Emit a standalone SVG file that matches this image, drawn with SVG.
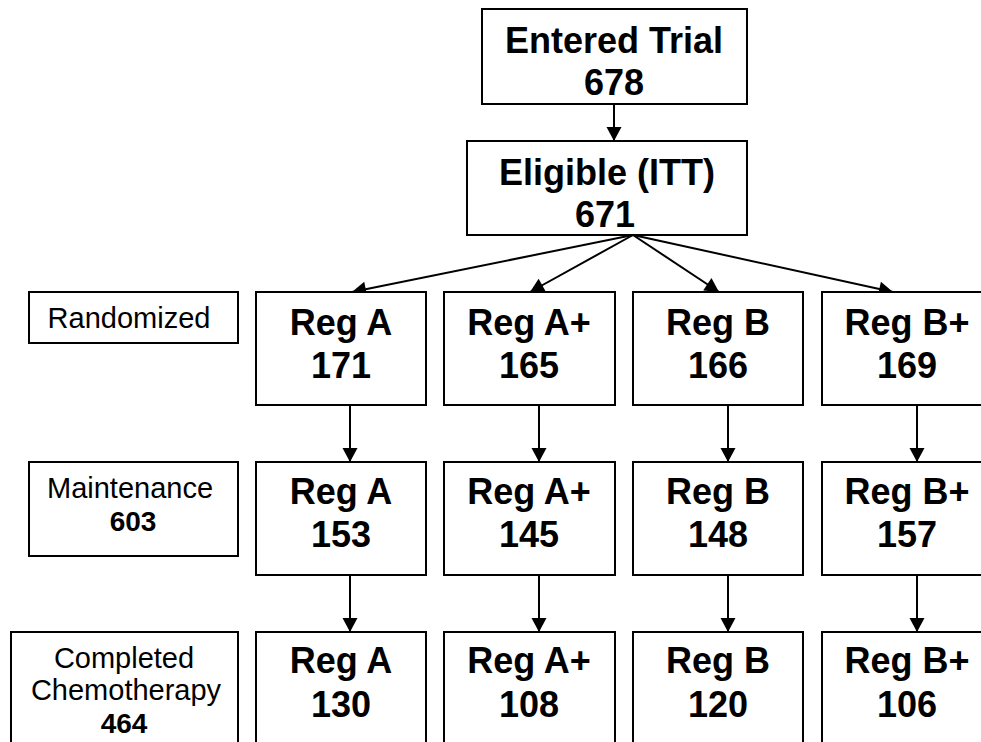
<svg xmlns="http://www.w3.org/2000/svg" width="981" height="742" viewBox="0 0 981 742">
<style>
.box{fill:#fff;stroke:#000;stroke-width:2}
.big{font-family:"Liberation Sans",Arial,sans-serif;font-weight:bold;font-size:36px;text-anchor:middle;fill:#000}
.lab{font-family:"Liberation Sans",Arial,sans-serif;font-size:29px;text-anchor:middle;fill:#000}
.labb{font-family:"Liberation Sans",Arial,sans-serif;font-size:28px;font-weight:bold;text-anchor:middle;fill:#000}
.con{stroke:#000;stroke-width:2;fill:none;marker-end:url(#ah)}
</style>
<defs>
<marker id="ah" markerUnits="userSpaceOnUse" markerWidth="16" markerHeight="16" viewBox="0 0 14 16" refX="14" refY="8" orient="auto">
<path d="M0,0.5 L14,8 L0,15.5 Z" fill="#000"/>
</marker>
</defs>
<rect width="981" height="742" fill="#fff"/>
<g id="connectors">
<line class="con" x1="614" y1="104" x2="614" y2="141"/>
<line class="con" x1="633" y1="235" x2="352" y2="292"/>
<line class="con" x1="633" y1="235" x2="530" y2="292"/>
<line class="con" x1="633" y1="235" x2="719" y2="292"/>
<line class="con" x1="633" y1="235" x2="893" y2="292"/>
<line class="con" x1="350" y1="405" x2="350" y2="462"/>
<line class="con" x1="539" y1="405" x2="539" y2="462"/>
<line class="con" x1="728" y1="405" x2="728" y2="462"/>
<line class="con" x1="917" y1="405" x2="917" y2="462"/>
<line class="con" x1="350" y1="575" x2="350" y2="632"/>
<line class="con" x1="539" y1="575" x2="539" y2="632"/>
<line class="con" x1="728" y1="575" x2="728" y2="632"/>
<line class="con" x1="917" y1="575" x2="917" y2="632"/>
</g>
<g id="entered"><rect class="box" x="482" y="9" width="265" height="95"/><text class="big" x="614" y="53">Entered Trial</text><text class="big" x="614" y="95">678</text></g>
<g id="eligible"><rect class="box" x="467" y="141" width="280" height="94"/><text class="big" x="607" y="185">Eligible (ITT)</text><text class="big" x="605" y="227">671</text></g>
<g id="lbl-randomized"><rect class="box" x="29" y="292" width="209" height="51"/><text class="lab" x="129" y="328">Randomized</text></g>
<g id="lbl-maintenance"><rect class="box" x="29" y="462" width="209" height="94"/><text class="lab" x="130" y="498">Maintenance</text><text class="labb" x="133" y="531">603</text></g>
<g id="lbl-completed"><rect class="box" x="11" y="632" width="227" height="130"/><text class="lab" x="124" y="668">Completed</text><text class="lab" x="126" y="700">Chemotherapy</text><text class="labb" x="124" y="733">464</text></g>
<g id="r1a"><rect class="box" x="256" y="292" width="170" height="113"/><text class="big" x="341" y="335">Reg A</text><text class="big" x="341" y="378">171</text></g>
<g id="r1ap"><rect class="box" x="444" y="292" width="171" height="113"/><text class="big" x="529" y="335">Reg A+</text><text class="big" x="529" y="378">165</text></g>
<g id="r1b"><rect class="box" x="633" y="292" width="170" height="113"/><text class="big" x="718" y="335">Reg B</text><text class="big" x="718" y="378">166</text></g>
<g id="r1bp"><rect class="box" x="822" y="292" width="170" height="113"/><text class="big" x="907" y="335">Reg B+</text><text class="big" x="907" y="378">169</text></g>
<g id="r2a"><rect class="box" x="256" y="462" width="170" height="113"/><text class="big" x="341" y="504">Reg A</text><text class="big" x="341" y="547">153</text></g>
<g id="r2ap"><rect class="box" x="444" y="462" width="171" height="113"/><text class="big" x="529" y="504">Reg A+</text><text class="big" x="529" y="547">145</text></g>
<g id="r2b"><rect class="box" x="633" y="462" width="170" height="113"/><text class="big" x="718" y="504">Reg B</text><text class="big" x="718" y="547">148</text></g>
<g id="r2bp"><rect class="box" x="822" y="462" width="170" height="113"/><text class="big" x="907" y="504">Reg B+</text><text class="big" x="907" y="547">157</text></g>
<g id="r3a"><rect class="box" x="256" y="632" width="170" height="130"/><text class="big" x="341" y="673">Reg A</text><text class="big" x="341" y="717">130</text></g>
<g id="r3ap"><rect class="box" x="444" y="632" width="171" height="130"/><text class="big" x="529" y="673">Reg A+</text><text class="big" x="529" y="717">108</text></g>
<g id="r3b"><rect class="box" x="633" y="632" width="170" height="130"/><text class="big" x="718" y="673">Reg B</text><text class="big" x="718" y="717">120</text></g>
<g id="r3bp"><rect class="box" x="822" y="632" width="170" height="130"/><text class="big" x="907" y="673">Reg B+</text><text class="big" x="907" y="717">106</text></g>
</svg>
